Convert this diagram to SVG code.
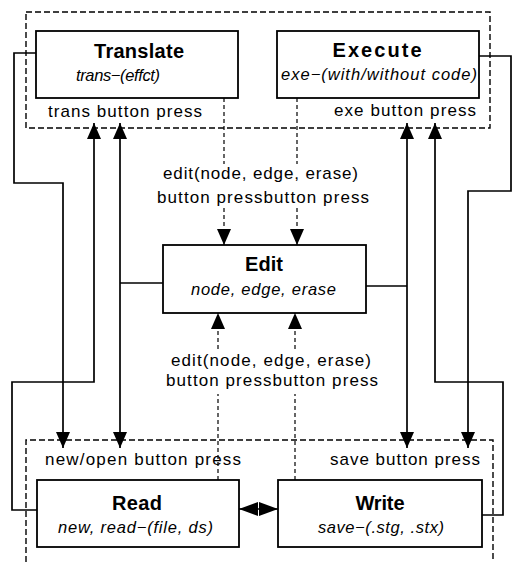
<svg xmlns="http://www.w3.org/2000/svg" width="517" height="562" viewBox="0 0 517 562">
  <style>
    .box { fill: #ffffff; stroke: #000000; stroke-width: 1.8; }
    .frame { fill: none; stroke: #000000; stroke-width: 1.4; stroke-dasharray: 6 3; }
    .solid { fill: none; stroke: #000000; stroke-width: 1.7; }
    .dash { fill: none; stroke: #000000; stroke-width: 1.2; stroke-dasharray: 4 3; }
    .title { font-family: "Liberation Sans", Arial, sans-serif; font-weight: bold; font-size: 20px; fill: #000000; }
    .sub { font-family: "Liberation Sans", Arial, sans-serif; font-style: italic; font-size: 16.5px; fill: #000000; }
    .lbl { font-family: "Liberation Sans", Arial, sans-serif; font-size: 17px; fill: #000000; }
  </style>
  <defs>
    <marker id="arr" viewBox="0 0 16 14" refX="16" refY="7" markerWidth="16" markerHeight="14" markerUnits="userSpaceOnUse" orient="auto-start-reverse">
      <path d="M0,0 L16,7 L0,14 Z" fill="#000000"/>
    </marker>
    <marker id="arrh" viewBox="0 0 19 14" refX="19" refY="7" markerWidth="19" markerHeight="14" markerUnits="userSpaceOnUse" orient="auto-start-reverse">
      <path d="M0,0 L19,7 L0,14 Z" fill="#000000"/>
    </marker>
  </defs>

  <!-- dashed frames -->
  <g id="frames">
    <rect class="frame" x="26" y="12" width="464" height="116"/>
    <path class="frame" d="M26,562 V440 H493 V562"/>
  </g>

  <!-- connectors -->
  <g id="connectors">
    <path class="solid" d="M36,53 H14 V183 H63 V448" marker-end="url(#arr)"/>
    <path class="solid" d="M37,510 H12 V382 H94 V123" marker-end="url(#arr)"/>
    <path class="solid" d="M120,123 V448" marker-start="url(#arr)" marker-end="url(#arr)"/>
    <path class="solid" d="M163,283 H120"/>
    <path class="solid" d="M407,123 V448" marker-start="url(#arr)" marker-end="url(#arr)"/>
    <path class="solid" d="M366,286 H407"/>
    <path class="solid" d="M479,56 H511 V191 H468 V448" marker-end="url(#arr)"/>
    <path class="solid" d="M482,515 H503 V382 H435 V123" marker-end="url(#arr)"/>
    <path class="solid" d="M239,509 H278" marker-start="url(#arrh)" marker-end="url(#arrh)"/>
    <path class="dash" d="M224,98 V164"/>
    <path class="dash" d="M224,208 V245" marker-end="url(#arr)"/>
    <path class="dash" d="M297,98 V164"/>
    <path class="dash" d="M297,208 V245" marker-end="url(#arr)"/>
    <path class="dash" d="M218,480 V394"/>
    <path class="dash" d="M218,349 V313" marker-end="url(#arr)"/>
    <path class="dash" d="M295,480 V394"/>
    <path class="dash" d="M295,349 V313" marker-end="url(#arr)"/>
  </g>

  <!-- nodes -->
  <g id="translate">
    <rect class="box" x="36" y="31" width="202" height="67"/>
    <text class="title" x="139" y="58" text-anchor="middle" textLength="90" lengthAdjust="spacing">Translate</text>
    <text class="sub" x="76" y="81" textLength="84" lengthAdjust="spacing">trans−(effct)</text>
  </g>
  <g id="execute">
    <rect class="box" x="277" y="31" width="202" height="67"/>
    <text class="title" x="377" y="57" text-anchor="middle" textLength="89" lengthAdjust="spacing">Execute</text>
    <text class="sub" x="281" y="80" textLength="196" lengthAdjust="spacing">exe−(with/without code)</text>
  </g>
  <g id="edit">
    <rect class="box" x="163" y="245" width="203" height="68"/>
    <text class="title" x="264" y="271" text-anchor="middle" textLength="38" lengthAdjust="spacing">Edit</text>
    <text class="sub" x="191" y="295" textLength="145" lengthAdjust="spacing">node, edge, erase</text>
  </g>
  <g id="read">
    <rect class="box" x="37" y="480" width="202" height="67"/>
    <text class="title" x="137" y="510" text-anchor="middle" textLength="50" lengthAdjust="spacing">Read</text>
    <text class="sub" x="58" y="533" textLength="155" lengthAdjust="spacing">new, read−(file, ds)</text>
  </g>
  <g id="write">
    <rect class="box" x="278" y="480" width="204" height="67"/>
    <text class="title" x="380" y="510" text-anchor="middle" textLength="49" lengthAdjust="spacing">Write</text>
    <text class="sub" x="318" y="533" textLength="126" lengthAdjust="spacing">save−(.stg, .stx)</text>
  </g>

  <!-- connector labels -->
  <g id="labels">
    <text class="lbl" x="48" y="117" textLength="154" lengthAdjust="spacing">trans button press</text>
    <text class="lbl" x="334" y="116" textLength="142" lengthAdjust="spacing">exe button press</text>
    <text class="lbl" x="163" y="179" textLength="195" lengthAdjust="spacing">edit(node, edge, erase)</text>
    <text class="lbl" x="157" y="203" textLength="212" lengthAdjust="spacing">button pressbutton press</text>
    <text class="lbl" x="171" y="366" textLength="200" lengthAdjust="spacing">edit(node, edge, erase)</text>
    <text class="lbl" x="166" y="386" textLength="212" lengthAdjust="spacing">button pressbutton press</text>
    <text class="lbl" x="45" y="465" textLength="196" lengthAdjust="spacing">new/open button press</text>
    <text class="lbl" x="330" y="465" textLength="150" lengthAdjust="spacing">save button press</text>
  </g>
</svg>
